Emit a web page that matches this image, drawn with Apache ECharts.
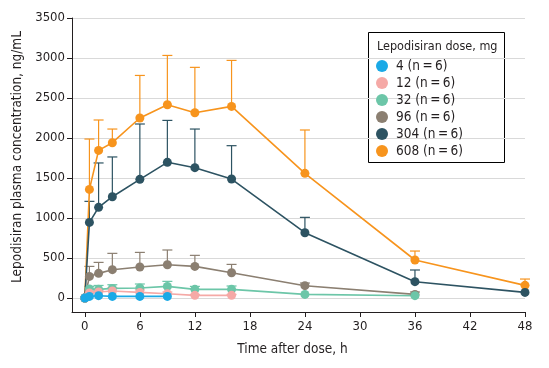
<!DOCTYPE html>
<html>
<head>
<meta charset="utf-8">
<script src="https://cdn.jsdelivr.net/npm/echarts@6/dist/echarts.min.js"></script>
<style>
html,body{margin:0;padding:0;background:#fff;}
#chart{width:549px;height:368px;}
</style>
</head>
<body>
<div id="chart"></div>
<script>
// ---- data ----
const doseNames = ['4 (n\u2009=\u20096)', '12 (n\u2009=\u20096)', '32 (n\u2009=\u20096)', '96 (n\u2009=\u20096)', '304 (n\u2009=\u20096)', '608 (n\u2009=\u20096)'];
const t4   = [0, 0.5, 1.5, 3, 6, 9];
const t12  = [0, 0.5, 1.5, 3, 6, 9, 12, 16];
const t32  = [0, 0.5, 1.5, 3, 6, 9, 12, 16, 24, 36];
const t96  = [0, 0.5, 1.5, 3, 6, 9, 12, 16, 24, 36];
const t304 = [0, 0.5, 1.5, 3, 6, 9, 12, 16, 24, 36, 48];
const t608 = [0, 0.5, 1.5, 3, 6, 9, 12, 16, 24, 36, 48];

const v4   = [0, 20, 29, 20, 20, 20];
const v12  = [0, 62, 75, 87, 70, 54, 33, 33];
const v32  = [0, 112, 108, 120, 125, 145, 108, 108, 45, 29];
const v96  = [0, 270, 308, 354, 387, 416, 395, 316, 154, 45];
const v304 = [0, 945, 1133, 1266, 1483, 1696, 1629, 1487, 816, 204, 70];
const v608 = [0, 1357, 1845, 1941, 2250, 2416, 2316, 2395, 1558, 475, 158];

// upper error bar ends (mean + SD)
const e4   = [null, null, null, null, null, null];
const e12  = [null, 80, 95, 130, 100, 75, 45, 45];
const e32  = [null, 145, 157, 166, 175, 208, 145, 150, null, null];
const e96  = [null, 395, 445, 558, 570, 600, 533, 420, 187, 75];
const e304 = [null, 1208, 1688, 1763, 2175, 2220, 2112, 1904, 1008, 350, null];
const e608 = [null, 1987, 2225, 2112, 2782, 3032, 2883, 2970, 2100, 587, 237];

const xTicks = [0, 6, 12, 18, 24, 30, 36, 42, 48];
const yTicks = [0, 500, 1000, 1500, 2000, 2500, 3000, 3500];

const colors = ['#1aa9e6', '#f5a9a6', '#6cc6a8', '#8b7f71', '#2d5362', '#f7941d'];
const times = [t4, t12, t32, t96, t304, t608];
const vals = [v4, v12, v32, v96, v304, v608];
const errs = [e4, e12, e32, e96, e304, e608];

const FONT = "'Liberation Sans Narrow', 'DejaVu Sans Condensed', sans-serif";
const TXT = '#231f20';

const order = [5, 4, 3, 2, 1, 0];
const series = [];
order.forEach(i => {
  const color = colors[i];
  series.push({
    type: 'custom',
    name: doseNames[i],
    data: times[i].map((t, k) => [t, vals[i][k], errs[i][k] == null ? NaN : errs[i][k]]),
    itemStyle: { color: color },
    renderItem: function (params, api) {
      const u = api.value(2);
      if (isNaN(u)) return null;
      const p0 = api.coord([api.value(0), api.value(1)]);
      const p1 = api.coord([api.value(0), u]);
      const w = 5;
      return {
        type: 'group',
        children: [
          { type: 'line', shape: { x1: p0[0], y1: p0[1], x2: p1[0], y2: p1[1] }, style: { stroke: color, lineWidth: 1.2 } },
          { type: 'line', shape: { x1: p1[0] - w, y1: p1[1], x2: p1[0] + w, y2: p1[1] }, style: { stroke: color, lineWidth: 1.2 } }
        ]
      };
    },
    silent: true
  });
});
order.forEach(i => {
  series.push({
    type: 'line',
    name: doseNames[i],
    data: times[i].map((t, k) => [t, vals[i][k]]),
    symbol: 'circle',
    symbolSize: 9,
    showSymbol: true,
    lineStyle: { width: 1.6, color: colors[i] },
    itemStyle: { color: colors[i] },
    animation: false
  });
});

const chart = echarts.init(document.getElementById('chart'), null, { renderer: 'canvas' });
chart.setOption({
  animation: false,
  backgroundColor: '#fff',
  grid: { left: 72, right: 24, top: 18, bottom: 56, containLabel: false },
  xAxis: {
    type: 'value', min: -1.4, max: 48,
    name: 'Time after dose, h', nameLocation: 'middle', nameGap: 30,
    nameTextStyle: { fontFamily: FONT, fontSize: 13.5, color: TXT, padding: [0, 12, 0, 0] },
    axisLine: { show: true, onZero: false, lineStyle: { color: TXT, width: 1 } },
    axisTick: { show: true, length: 5, lineStyle: { color: TXT }, customValues: xTicks },
    axisLabel: { customValues: xTicks, fontFamily: FONT, fontSize: 13, color: TXT, margin: 8, formatter: v => String(v) },
    splitLine: { show: false }
  },
  yAxis: {
    type: 'value', min: -175, max: 3500,
    name: 'Lepodisiran plasma concentration, ng/mL', nameLocation: 'middle', nameGap: 48,
    nameTextStyle: { fontFamily: FONT, fontSize: 13.5, color: TXT, padding: [0, 0, 0, 16] },
    axisLine: { show: true, onZero: false, lineStyle: { color: TXT, width: 1 } },
    axisTick: { show: true, length: 5, lineStyle: { color: TXT }, customValues: yTicks },
    axisLabel: { customValues: yTicks, fontFamily: FONT, fontSize: 13, color: TXT, margin: 7, formatter: v => String(v) },
    splitLine: { show: true, lineStyle: { color: '#d9d9d9', width: 1 } }
  },
  legend: {
    data: doseNames,
    orient: 'vertical',
    left: 376, top: 59,
    padding: 0,
    itemWidth: 12, itemHeight: 12, itemGap: 3,
    icon: 'circle',
    textStyle: { fontFamily: FONT, fontSize: 13.5, color: TXT, lineHeight: 14, padding: [0, 0, 0, 3] }
  },
  graphic: [
    { type: 'rect', shape: { x: 368.5, y: 32.5, width: 136, height: 130 }, style: { fill: '#fff', stroke: '#000', lineWidth: 1 }, z: -1 },
    { type: 'text', x: 377, y: 47, style: { text: 'Lepodisiran dose, mg', font: '12.5px ' + FONT, fill: TXT, textVerticalAlign: 'middle' }, z: 10 }
  ],
  series: series
});
</script>
</body>
</html>
